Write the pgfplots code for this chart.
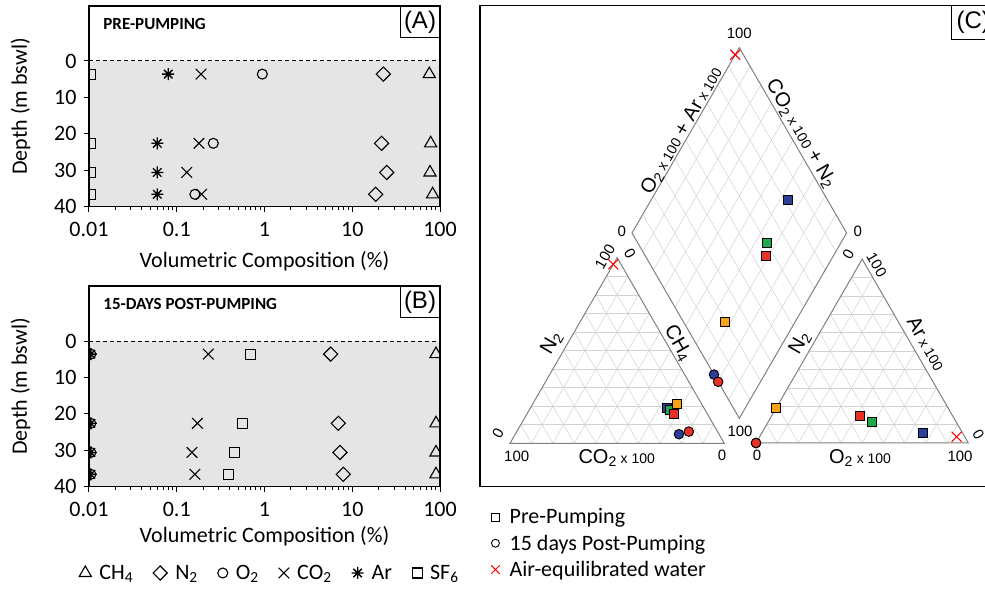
\documentclass[border=0pt]{standalone}
\usepackage{fontspec}
\setmainfont{Carlito}
\newfontfamily\arialf{Liberation Sans}
\usepackage{pgfplots}
\usepackage{pgfplotstable}
\pgfplotsset{compat=1.18}
\usetikzlibrary{plotmarks}

\pgfdeclareplotmark{ast8}{%
  \pgfpathmoveto{\pgfqpoint{-\pgfplotmarksize}{0pt}}%
  \pgfpathlineto{\pgfqpoint{\pgfplotmarksize}{0pt}}%
  \pgfpathmoveto{\pgfqpoint{0pt}{-\pgfplotmarksize}}%
  \pgfpathlineto{\pgfqpoint{0pt}{\pgfplotmarksize}}%
  \pgfpathmoveto{\pgfqpoint{-.7071\pgfplotmarksize}{-.7071\pgfplotmarksize}}%
  \pgfpathlineto{\pgfqpoint{.7071\pgfplotmarksize}{.7071\pgfplotmarksize}}%
  \pgfpathmoveto{\pgfqpoint{-.7071\pgfplotmarksize}{.7071\pgfplotmarksize}}%
  \pgfpathlineto{\pgfqpoint{.7071\pgfplotmarksize}{-.7071\pgfplotmarksize}}%
  \pgfusepathqstroke}

\definecolor{cblue}{RGB}{43,63,153}
\definecolor{cgreen}{RGB}{30,170,75}
\definecolor{cred}{RGB}{232,50,40}
\definecolor{corange}{RGB}{247,162,27}
\definecolor{bgc}{RGB}{229,229,229}
\definecolor{gridc}{RGB}{210,210,210}
\definecolor{outc}{RGB}{128,128,128}

\newcommand{\bigf}{\fontsize{20}{22}\selectfont}
\newcommand{\smf}{\fontsize{14}{16}\selectfont}

% depth (m), volumetric composition (%)
\pgfplotstableread{
d    ch4   n2    o2     co2    ar     sf6
3.6  75.5  22.6  0.944  0.189  0.080  0.0105
22.6 78.3  21.6  0.261  0.179  0.060  0.0105
30.6 76.9  24.7  nan    0.130  0.060  0.0105
36.6 82.4  18.5  0.161  0.192  0.060  0.0105
}\pre
\pgfplotstableread{
d    ch4   n2    o2     co2    ar     sf6
3.6  90    5.68  0.0105 0.229  0.0105 0.695
22.6 90    6.94  0.0105 0.172  0.0105 0.564
30.6 90    7.25  0.0105 0.149  0.0105 0.453
36.6 90    7.91  0.0105 0.161  0.0105 0.387
}\post

% ternary data (%): left triangle N2, CO2x100, CH4; right triangle N2, O2x100, Arx100
\pgfplotstableread{
c n2   co2  ch4  n2r  o2   ar
b 18.9 17.1 64.0 18.4 76.0 5.6
g 17.9 16.4 65.7 39.9 48.9 11.2
o 21.2 11.6 67.2 80.8 0.0  19.2
r 15.6 15.7 68.7 43.7 41.6 14.7
}\tpre
\pgfplotstableread{
c n2   co2  ch4  n2r  o2   ar
b 4.9  18.7 76.4 100  0    0
r 6.3  13.4 80.3 100  0    0
}\tpost
\pgfplotstableread{
c n2   co2  ch4  n2r  o2   ar
x 96.4 3.6  0.0  3.8  92.8 3.4
}\tair

\pgfplotsset{
  pm/.style={only marks, black, line width=1.1pt},
  sCH/.style={pm, mark=triangle, mark size=7pt, mark options={solid, fill=none}},
  sN/.style={pm, mark=square, mark size=5pt, mark options={solid, fill=none, rotate=45}},
  sO/.style={pm, mark=o, mark size=5pt, mark options={solid, fill=none}},
  sC/.style={pm, mark=x, mark size=7.5pt, mark options={solid}},
  sA/.style={pm, mark=ast8, mark size=6pt, line width=1.3pt, mark options={solid}},
  sS/.style={pm, mark=square, mark size=5pt, mark options={solid, fill=none}},
}
\tikzset{
  gridl/.style={draw=gridc, line width=0.5pt},
  outl/.style={draw=outc, line width=1pt},
  num/.style={font=\arialf\fontsize{15}{15}\selectfont},
  tlab/.style={font=\arialf\bigf},
}

\begin{document}
\begin{tikzpicture}
\path[use as bounding box] (0,0) rectangle (985pt,589pt);

% ---------------- Panel A ----------------
\begin{axis}[xmode=log, 
    width=351pt, height=200.7pt, scale only axis,
    xmin=0.01, xmax=100, ymin=-40, ymax=15.1,
    xtick={0.01,0.1,1,10,100}, xticklabels={0.01,0.1,1,10,100},
    minor xtick={},
    ytick={-40,-30,-20,-10,0}, yticklabels={40,30,20,10,0},
    tick align=outside, tick pos=left, major tick length=5pt,
    tick style={black, line width=1pt},
    axis line style={line width=1.3pt},
    axis on top, clip marker paths=true,
    tick label style={font=\fontsize{22}{22}\selectfont},
    xticklabel style={yshift=-7pt},
    yticklabel style={xshift=-4pt},
    label style={font=\fontsize{22}{24}\selectfont},
    xlabel={Volumetric Composition (\%)},
    ylabel={Depth (m bswl)},
    ylabel style={at={(axis description cs:-0.1946,0.5)}, anchor=center},
    at={(264.5pt,482.65pt)}, anchor=center,
    xlabel style={at={(axis description cs:0.5,-0.274)}, anchor=center}]
  \fill[bgc] (axis cs:0.01,0) rectangle (axis cs:100,-40);
  \draw[black, line width=1pt, dash pattern=on 4pt off 3pt] (axis cs:0.01,0) -- (axis cs:100,0);
  \addplot[sCH] table[x=ch4, y expr=-\thisrow{d}] {\pre};
  \addplot[sN]  table[x=n2,  y expr=-\thisrow{d}] {\pre};
  \addplot[sO]  table[x=o2,  y expr=-\thisrow{d}] {\pre};
  \addplot[sC]  table[x=co2, y expr=-\thisrow{d}] {\pre};
  \addplot[sA]  table[x=ar,  y expr=-\thisrow{d}] {\pre};
  \addplot[sS]  table[x=sf6, y expr=-\thisrow{d}] {\pre};
  \node[anchor=west, font=\bfseries\fontsize{17}{17}\selectfont] at (rel axis cs:0.031,0.91) {PRE-PUMPING};
  \node[draw, line width=1pt, fill=white, anchor=north east, minimum width=39pt, minimum height=31pt, inner sep=0pt,
        font=\arialf\fontsize{24}{24}\selectfont] at (rel axis cs:1,1) {(A)};
\end{axis}

% ---------------- Panel B ----------------
\begin{axis}[xmode=log,
    width=351pt, height=200.7pt, scale only axis,
    xmin=0.01, xmax=100, ymin=-40, ymax=15.1,
    xtick={0.01,0.1,1,10,100}, xticklabels={0.01,0.1,1,10,100},
    minor xtick={},
    ytick={-40,-30,-20,-10,0}, yticklabels={40,30,20,10,0},
    tick align=outside, tick pos=left, major tick length=5pt,
    tick style={black, line width=1pt},
    axis line style={line width=1.3pt},
    axis on top, clip marker paths=true,
    tick label style={font=\fontsize{22}{22}\selectfont},
    xticklabel style={yshift=-7pt},
    yticklabel style={xshift=-4pt},
    label style={font=\fontsize{22}{24}\selectfont},
    xlabel={Volumetric Composition (\%)},
    ylabel={Depth (m bswl)},
    ylabel style={at={(axis description cs:-0.1946,0.5)}, anchor=center},
    at={(264.5pt,202.65pt)}, anchor=center,
    xlabel style={at={(axis description cs:0.5,-0.249)}, anchor=center},
    legend style={at={(axis description cs:0.514,-0.43)}, anchor=center, draw=none, fill=none,
      font=\fontsize{22}{22}\selectfont, nodes={inner sep=1pt},
      /tikz/every odd column/.append style={column sep=7pt},
      /tikz/every even column/.append style={column sep=19pt}},
    legend columns=-1,
    legend image code/.code={\draw[#1] plot coordinates {(0pt,0pt)};}]
  \fill[bgc] (axis cs:0.01,0) rectangle (axis cs:100,-40);
  \draw[black, line width=1pt, dash pattern=on 4pt off 3pt] (axis cs:0.01,0) -- (axis cs:100,0);
  \addplot[sCH] table[x=ch4, y expr=-\thisrow{d}] {\post};
  \addlegendentry{CH\textsubscript{4}}
  \addplot[sN]  table[x=n2,  y expr=-\thisrow{d}] {\post};
  \addlegendentry{N\textsubscript{2}}
  \addplot[sO]  table[x=o2,  y expr=-\thisrow{d}] {\post};
  \addlegendentry{O\textsubscript{2}}
  \addplot[sC]  table[x=co2, y expr=-\thisrow{d}] {\post};
  \addlegendentry{CO\textsubscript{2}}
  \addplot[sA]  table[x=ar,  y expr=-\thisrow{d}] {\post};
  \addlegendentry{Ar}
  \addplot[sS]  table[x=sf6, y expr=-\thisrow{d}] {\post};
  \addlegendentry{SF\textsubscript{6}}
  \node[anchor=west, font=\bfseries\fontsize{17}{17}\selectfont] at (rel axis cs:0.031,0.91) {15-DAYS POST-PUMPING};
  \node[draw, line width=1pt, fill=white, anchor=north east, minimum width=39pt, minimum height=31pt, inner sep=0pt,
        font=\arialf\fontsize{24}{24}\selectfont] at (rel axis cs:1,1) {(B)};
\end{axis}

% ---------------- Panel C ----------------
\begin{axis}[at={(0pt,0pt)}, anchor=south west, x=1pt, y=1pt,
  xmin=0, xmax=985, ymin=0, ymax=589, hide axis, clip=false,
  legend style={at={(axis cs:488,45.7)}, anchor=west, draw=none, fill=none,
    font=\fontsize{22}{24}\selectfont, nodes={inner sep=1pt}, row sep=7.5pt,
    /tikz/every odd column/.append style={column sep=9pt}},
  legend cell align=left,
  legend image code/.code={\draw[#1] plot coordinates {(0pt,0pt)};}]
  % frame
  \draw[black, line width=1.3pt] (axis cs:480,102.3) rectangle (axis cs:1000,583.3);
  % grids
  \pgfplotsinvokeforeach{10,20,...,90}{
    \draw[gridl] (axis cs:{510+1.0715*#1},{145.7+1.856*#1}) -- (axis cs:{724.3-1.0715*#1},{145.7+1.856*#1});
    \draw[gridl] (axis cs:{510+2.143*#1},145.7) -- (axis cs:{617.15+1.0715*#1},{331.3-1.856*#1});
    \draw[gridl] (axis cs:{724.3-2.143*#1},145.7) -- (axis cs:{617.15-1.0715*#1},{331.3-1.856*#1});
    \draw[gridl] (axis cs:{756+1.0615*#1},{146+1.8385*#1}) -- (axis cs:{968.3-1.0615*#1},{146+1.8385*#1});
    \draw[gridl] (axis cs:{756+2.123*#1},146) -- (axis cs:{862.15+1.0615*#1},{329.85-1.8385*#1});
    \draw[gridl] (axis cs:{968.3-2.123*#1},146) -- (axis cs:{862.15-1.0615*#1},{329.85-1.8385*#1});
    \draw[gridl] (axis cs:{739.3+1.073*#1},{170.7+1.853*#1}) -- (axis cs:{632+1.073*#1},{356+1.853*#1});
    \draw[gridl] (axis cs:{739.3-1.073*#1},{170.7+1.853*#1}) -- (axis cs:{846.6-1.073*#1},{356+1.853*#1});
  }
  % outlines
  \draw[outl] (axis cs:510,145.7) -- (axis cs:724.3,145.7) -- (axis cs:617.15,331.3) -- cycle;
  \draw[outl] (axis cs:756,146) -- (axis cs:968.3,146) -- (axis cs:862.15,329.85) -- cycle;
  \draw[outl] (axis cs:739.3,170.7) -- (axis cs:846.6,356) -- (axis cs:739.3,541.3) -- (axis cs:632,356) -- cycle;
  % labels
  \node[num] at (axis cs:739.3,555.7) {100};
  \node[num] at (axis cs:621.7,358) {0};
  \node[num] at (axis cs:857.7,358) {0};
  \node[tlab, rotate=60] at (axis cs:682,458) {O\textsubscript{2}{\smf\ x 100} + Ar{\smf\ x 100}};
  \node[tlab, rotate=-60] at (axis cs:801,455) {CO\textsubscript{2}{\smf\ x 100} + N\textsubscript{2}};
  \node[tlab, rotate=60] at (axis cs:551.7,245.7) {N\textsubscript{2}};
  \node[tlab, rotate=-60] at (axis cs:678,246) {CH\textsubscript{4}};
  \node[num, rotate=60] at (axis cs:605,332.3) {100};
  \node[num, rotate=60] at (axis cs:498,156) {0};
  \node[num, rotate=-60] at (axis cs:630,335.7) {0};
  \node[num] at (axis cs:516.7,133) {100};
  \node[tlab] at (axis cs:616.7,131) {CO\textsubscript{2}{\smf\ x 100}};
  \node[num] at (axis cs:722,134) {0};
  \node[num] at (axis cs:740,158) {100};
  \node[tlab, rotate=60] at (axis cs:800,246) {N\textsubscript{2}};
  \node[tlab, rotate=-60] at (axis cs:926.7,245.7) {Ar{\smf\ x 100}};
  \node[num, rotate=60] at (axis cs:848.3,335) {0};
  \node[num, rotate=-60] at (axis cs:876.7,324) {100};
  \node[num] at (axis cs:757,134) {0};
  \node[tlab] at (axis cs:860,131) {O\textsubscript{2}{\smf\ x 100}};
  \node[num] at (axis cs:960,133) {100};
  \node[num, rotate=-60] at (axis cs:978.3,154) {0};
  % (C) box
  \draw[black, line width=1pt, fill=white] (axis cs:951.7,549.7) rectangle (axis cs:1000,583.3);
  \node[anchor=west, font=\arialf\fontsize{24}{24}\selectfont] at (axis cs:953,566.5) {(C)};
  % data: left triangle (N2 top, CO2x100 bottom-left, CH4 bottom-right)
  \addplot[forget plot, scatter, only marks, point meta=explicit symbolic, mark size=4.5pt,
    mark options={draw=black, line width=0.9pt},
    scatter/classes={b={mark=square*, draw=black, fill=cblue}, g={mark=square*, draw=black, fill=cgreen},
                     o={mark=square*, draw=black, fill=corange}, r={mark=square*, draw=black, fill=cred}}]
    table[x expr={510+2.143*\thisrow{ch4}+1.0715*\thisrow{n2}}, y expr={145.7+1.856*\thisrow{n2}}, meta=c] {\tpre};
  \addplot[forget plot, scatter, only marks, point meta=explicit symbolic, mark size=4.8pt,
    mark options={draw=black, line width=0.9pt},
    scatter/classes={b={mark=*, draw=black, fill=cblue}, r={mark=*, draw=black, fill=cred}}]
    table[x expr={510+2.143*\thisrow{ch4}+1.0715*\thisrow{n2}}, y expr={145.7+1.856*\thisrow{n2}}, meta=c] {\tpost};
  % right triangle (Ar top, N2 bottom-left, O2x100 bottom-right)
  \addplot[forget plot, scatter, only marks, point meta=explicit symbolic, mark size=4.5pt,
    mark options={draw=black, line width=0.9pt},
    scatter/classes={b={mark=square*, draw=black, fill=cblue}, g={mark=square*, draw=black, fill=cgreen},
                     o={mark=square*, draw=black, fill=corange}, r={mark=square*, draw=black, fill=cred}}]
    table[x expr={756+2.123*\thisrow{o2}+1.0615*\thisrow{ar}}, y expr={146+1.8385*\thisrow{ar}}, meta=c] {\tpre};
  \addplot[forget plot, scatter, only marks, point meta=explicit symbolic, mark size=4.8pt,
    mark options={draw=black, line width=0.9pt},
    scatter/classes={b={mark=*, draw=black, fill=cblue}, r={mark=*, draw=black, fill=cred}}]
    table[x expr={756+2.123*\thisrow{o2}+1.0615*\thisrow{ar}}, y expr={146+1.8385*\thisrow{ar}}, meta=c] {\tpost};
  % diamond: (O2x100+Arx100) = 100 - N2(right), (CO2x100+N2) = 100 - CH4(left)
  \addplot[forget plot, scatter, only marks, point meta=explicit symbolic, mark size=4.5pt,
    mark options={draw=black, line width=0.9pt},
    scatter/classes={b={mark=square*, draw=black, fill=cblue}, g={mark=square*, draw=black, fill=cgreen},
                     o={mark=square*, draw=black, fill=corange}, r={mark=square*, draw=black, fill=cred}}]
    table[x expr={739.3+1.073*(\thisrow{ch4}-\thisrow{n2r})}, y expr={170.7+1.853*(200-\thisrow{n2r}-\thisrow{ch4})}, meta=c] {\tpre};
  \addplot[forget plot, scatter, only marks, point meta=explicit symbolic, mark size=4.8pt,
    mark options={draw=black, line width=0.9pt},
    scatter/classes={b={mark=*, draw=black, fill=cblue}, r={mark=*, draw=black, fill=cred}}]
    table[x expr={739.3+1.073*(\thisrow{ch4}-\thisrow{n2r})}, y expr={170.7+1.853*(200-\thisrow{n2r}-\thisrow{ch4})}, meta=c] {\tpost};
  % air-equilibrated water
  \addplot[forget plot, only marks, mark=x, mark size=7pt, draw=red, line width=1.1pt]
    table[x expr={510+2.143*\thisrow{ch4}+1.0715*\thisrow{n2}}, y expr={145.7+1.856*\thisrow{n2}}] {\tair};
  \addplot[forget plot, only marks, mark=x, mark size=7pt, draw=red, line width=1.1pt]
    table[x expr={756+2.123*\thisrow{o2}+1.0615*\thisrow{ar}}, y expr={146+1.8385*\thisrow{ar}}] {\tair};
  \addplot[forget plot, only marks, mark=x, mark size=7pt, draw=red, line width=1.1pt]
    table[x expr={739.3+1.073*(\thisrow{ch4}-\thisrow{n2r})}, y expr={170.7+1.853*(200-\thisrow{n2r}-\thisrow{ch4})}] {\tair};
  % legend
  \addlegendimage{only marks, mark=square, mark size=4pt, black, line width=0.9pt}
  \addlegendentry{Pre-Pumping}
  \addlegendimage{only marks, mark=o, mark size=4pt, black, line width=0.9pt}
  \addlegendentry{15 days Post-Pumping}
  \addlegendimage{only marks, mark=x, mark size=6pt, red, line width=1pt}
  \addlegendentry{Air-equilibrated water}
\end{axis}
\end{tikzpicture}
\end{document}
